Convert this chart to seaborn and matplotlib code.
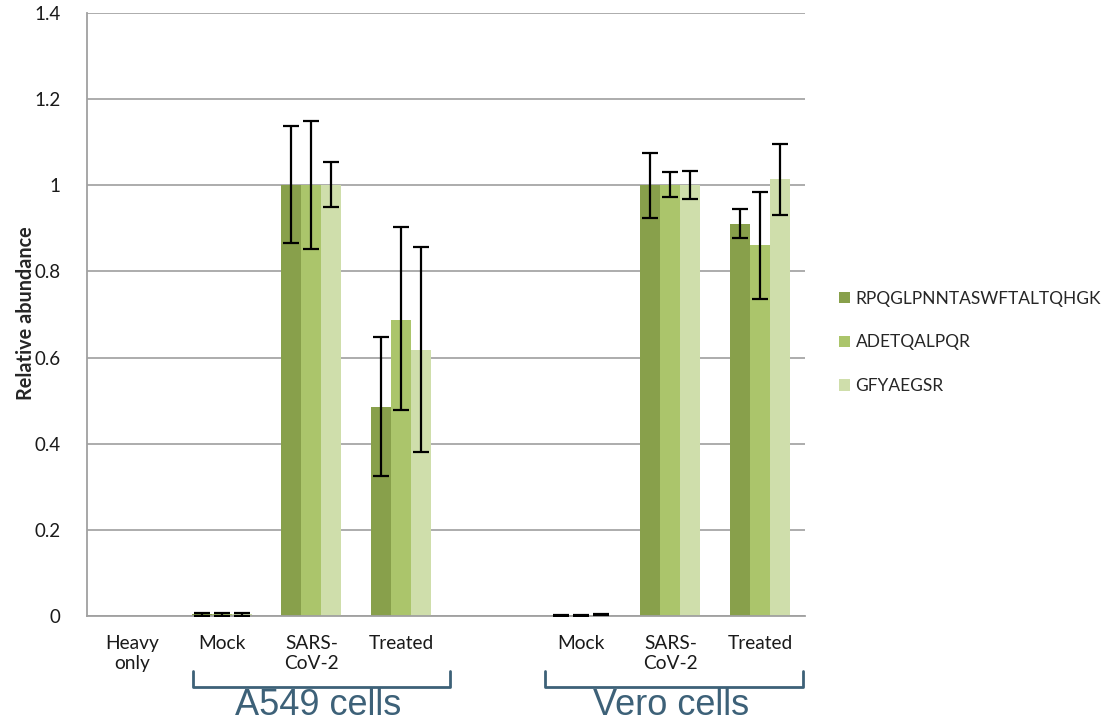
import numpy as np
import pandas as pd
import matplotlib
matplotlib.use("Agg")
import matplotlib.pyplot as plt
import matplotlib.transforms as mtransforms
from matplotlib.patches import Patch
from matplotlib.container import BarContainer
import seaborn as sns

# ---- data ----
slots = ["Heavy only", "A549 Mock", "A549 SARS", "A549 Treated", "gap",
         "Vero Mock", "Vero SARS", "Vero Treated"]
tick_labels = ["Heavy\nonly", "Mock", "SARS-\nCoV-2", "Treated", "",
               "Mock", "SARS-\nCoV-2", "Treated"]
data_slots = ["Heavy only", "A549 Mock", "A549 SARS", "A549 Treated",
              "Vero Mock", "Vero SARS", "Vero Treated"]
peptides = ["RPQGLPNNTASWFTALTQHGK", "ADETQALPQR", "GFYAEGSR"]

vals_rpq = [0.001, 0.004, 1.000, 0.486, 0.002, 1.000, 0.910]
vals_ade = [0.001, 0.004, 1.000, 0.687, 0.002, 1.000, 0.861]
vals_gfy = [0.001, 0.004, 1.000, 0.618, 0.003, 1.000, 1.014]

lo_rpq = [0.000, 0.003, 0.135, 0.161, 0.001, 0.075, 0.033]
hi_rpq = [0.000, 0.003, 0.137, 0.161, 0.001, 0.076, 0.034]
lo_ade = [0.000, 0.003, 0.147, 0.208, 0.001, 0.028, 0.126]
hi_ade = [0.000, 0.003, 0.150, 0.216, 0.001, 0.030, 0.124]
lo_gfy = [0.000, 0.003, 0.051, 0.238, 0.001, 0.031, 0.083]
hi_gfy = [0.000, 0.003, 0.055, 0.239, 0.001, 0.034, 0.083]

group_labels = ["A549 cells", "Vero cells"]
group_spans = [("A549 Mock", "A549 Treated"), ("Vero Mock", "Vero Treated")]

colors = ["#88a04b", "#abc56b", "#cfdeab"]

# ---- frame ----
rows = []
for pep, vals in zip(peptides, [vals_rpq, vals_ade, vals_gfy]):
    for s, v in zip(data_slots, vals):
        rows.append({"slot": s, "peptide": pep, "value": v})
df = pd.DataFrame(rows)

sns.set_theme(style="white")
plt.rcParams["font.family"] = ["Lato", "DejaVu Sans"]

fig = plt.figure(figsize=(11.12, 7.24), dpi=100)
ax = fig.add_axes([0.0782, 0.1492, 0.7239 - 0.0782, 0.982 - 0.1492])

sns.barplot(data=df, x="slot", y="value", hue="peptide", order=slots,
            hue_order=peptides, palette=colors, width=0.67, errorbar=None,
            saturation=1, ax=ax, legend=False, linewidth=0)

# error bars from bar geometry
los = [lo_rpq, lo_ade, lo_gfy]
his = [hi_rpq, hi_ade, hi_gfy]
bar_conts = [c for c in ax.containers if isinstance(c, BarContainer)]
for i, cont in enumerate(bar_conts):
    bars = sorted(list(cont), key=lambda b: b.get_x())
    xs, hs, lo, hi = [], [], [], []
    for b, l, h in zip(bars, los[i], his[i]):
        if l == 0 and h == 0:
            continue
        xs.append(b.get_x() + b.get_width() / 2)
        hs.append(b.get_height())
        lo.append(l)
        hi.append(h)
    ax.errorbar(xs, hs, yerr=[lo, hi], fmt="none",
                ecolor="black", elinewidth=1.6, capsize=6, capthick=1.6,
                zorder=5)

ax.set_xlim(-0.5, len(slots) - 0.5)
ax.set_ylim(0, 1.4)
ax.set_yticks(np.arange(0, 1.41, 0.2))
ax.set_yticklabels(["0", "0.2", "0.4", "0.6", "0.8", "1", "1.2", "1.4"])
ax.set_xticks(range(len(slots)))
ax.set_xticklabels(tick_labels)
ax.set_xticks(np.arange(-0.5, len(slots), 1.0), minor=True)
ax.tick_params(axis="x", which="major", length=0, labelsize=13.8, pad=14,
               colors="#1a1a1a")
ax.tick_params(axis="x", which="minor", length=7, width=1.2, color="#a0a0a0",
               direction="out")
ax.tick_params(axis="y", which="major", length=7, width=1.2, color="#a0a0a0",
               direction="out", labelsize=13.5, pad=12, labelcolor="#1a1a1a")
ax.grid(axis="y", color="#a6a6a6", linewidth=1.3)
ax.set_axisbelow(True)
for sp in ["top", "right"]:
    ax.spines[sp].set_visible(False)
for sp in ["left", "bottom"]:
    ax.spines[sp].set_color("#a0a0a0")
    ax.spines[sp].set_linewidth(1.3)
ax.set_xlabel("")
ax.set_ylabel("Relative abundance", fontsize=14.3, fontweight="bold")
ax.yaxis.set_label_coords(-0.071, 0.5025)

# group brackets
bracket_pad = [(-0.32, 0.54), (-0.40, 0.48)]
trans = mtransforms.blended_transform_factory(ax.transData, ax.transAxes)
for lab, (a, b), (pa, pb) in zip(group_labels, group_spans, bracket_pad):
    x0 = slots.index(a) + pa
    x1 = slots.index(b) + pb
    ax.plot([x0, x0, x1, x1], [-0.091, -0.118, -0.118, -0.091],
            transform=trans, clip_on=False, color="#3d6178", linewidth=2,
            solid_joinstyle="round")
    ax.text((x0 + x1) / 2 - 0.03, -0.164, lab, transform=trans, ha="center",
            va="baseline", fontsize=26, color="#3d6178",
            family=["Liberation Sans", "DejaVu Sans"])

handles = [Patch(facecolor=c, edgecolor="none") for c in colors]
fig.legend(handles, peptides, loc="center left",
           bbox_to_anchor=(0.7405, 0.527), frameon=False, fontsize=12.5,
           handlelength=0.65, handleheight=0.65, handletextpad=0.3,
           labelspacing=1.6)

fig.savefig("out.png", dpi=100)
